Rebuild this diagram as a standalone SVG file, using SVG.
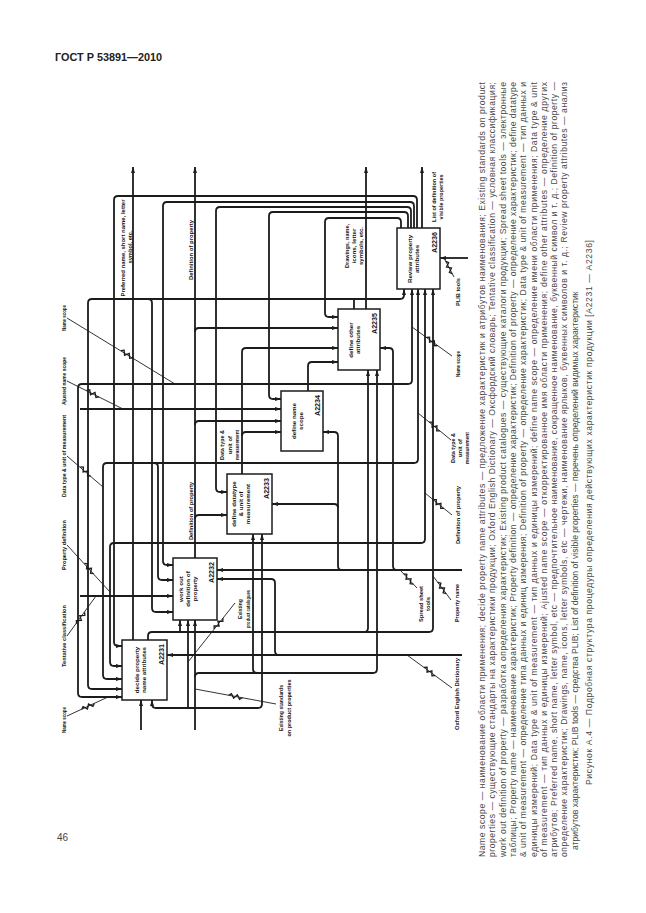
<svg xmlns="http://www.w3.org/2000/svg" width="646" height="913" viewBox="0 0 646 913">
<defs>
<style>
.c{fill:none;stroke:#1c1c1c;stroke-width:1.8;stroke-linejoin:round}
.ae{marker-end:url(#ah)}
.as{marker-start:url(#ah)}
.bx{fill:#fff;stroke:#1c1c1c;stroke-width:1.5}
.bt{font-family:"Liberation Sans",Arial,sans-serif;font-weight:bold;font-size:6.2px;fill:#151515}
.id{font-family:"Liberation Sans",Arial,sans-serif;font-weight:bold;font-size:7px;fill:#151515}
.lb{font-family:"Liberation Sans",Arial,sans-serif;font-weight:bold;font-size:5.4px;fill:#151515}
.ld{fill:none;stroke:#1c1c1c;stroke-width:0.9}
.sq{fill:none;stroke:#1c1c1c;stroke-width:1.3}
.cap{font-family:"Liberation Sans",Arial,sans-serif;font-size:8.6px;fill:#4a4a4a}
.hd{font-family:"Liberation Sans",Arial,sans-serif;font-weight:bold;font-size:11px;fill:#222}
</style>
<marker id="ah" viewBox="0 0 6 4" refX="6" refY="2" markerWidth="6" markerHeight="4" markerUnits="userSpaceOnUse" orient="auto-start-reverse"><path d="M0,0 L6,2 L0,4 z" fill="#1c1c1c"/></marker>
<path id="sqz" d="M-7,0 L-4.5,-2 L-1.5,2 L1.5,-2 L4.5,2 L7,0"/>
</defs>
<rect width="646" height="913" fill="#fff"/>

<g id="header">
<text class="hd" x="55" y="61" textLength="107" lengthAdjust="spacingAndGlyphs">ГОСТ Р 53891—2010</text>
<text x="57" y="841" font-family="Liberation Sans, Arial, sans-serif" font-size="10" fill="#444">46</text>
</g>

<g id="connectors">
<path class="c ae" d="M133,640 V167"/>
<path class="c ae" d="M195,558 V167"/>
<path class="c ae" d="M366,309 V167"/>
<path class="c ae" d="M422,228 V167"/>
<path class="c ae" d="M417,228 V200 Q417,196 413,196 H118 Q114,196 114,200 V642 Q114,646 118,646 H122"/>
<path class="c ae" d="M414,228 V206 Q414,202 410,202 H167 Q163,202 163,206 V561 Q163,565 167,565 H173"/>
<path class="c ae" d="M411,228 V211 Q411,207 407,207 H220 Q216,207 216,211 V488 Q216,492 220,492 H227"/>
<path class="c ae" d="M408,228 V216 Q408,212 404,212 H273 Q269,212 269,216 V395 Q269,399 273,399 H281"/>
<path class="c ae" d="M401,228 V222 Q401,218 397,218 H329 Q325,218 325,222 V313 Q325,317 329,317 H338"/>
<path class="c ae" d="M242,474 V352 Q242,348 246,348 H338"/>
<path class="c ae" d="M242,436 Q242,432 246,432 H281"/>
<path class="c ae as" d="M122,679 H107 Q103,679 103,675 V467 Q103,463 107,463 H414 Q418,463 418,459 V289"/>
<path class="c ae" d="M154,463 Q158,463 158,467 V576 Q158,580 162,580 H173"/>
<path class="c ae as" d="M122,666 H114 Q110,666 110,662 V547 Q110,543 114,543 H421 Q425,543 425,539 V289"/>
<path class="c ae" d="M195,519 Q195,515 199,515 H227"/>
<path class="c ae" d="M195,425 Q195,421 199,421 H281"/>
<path class="c ae" d="M195,332 Q195,328 199,328 H338"/>
<path class="c ae" d="M308,391 V366 Q308,362 312,362 H338"/>
<path class="c ae as" d="M122,697 H82 Q78,697 78,693 V388 Q78,384 82,384 H408 Q412,384 412,380 V289"/>
<path class="c ae" d="M80,409 H281"/>
<path class="c ae" d="M80,596 H173"/>
<path class="c ae as" d="M122,689 H92 Q88,689 88,685 V303 Q88,299 92,299 H400 Q404,299 404,295 V289"/>
<path class="c ae" d="M148,299 Q152,299 152,303 V608 Q152,612 156,612 H173"/>
<path class="c" d="M354,309 V299"/>
<path class="c ae" d="M148,640 V636 Q148,632 152,632 H429 Q433,632 433,628 V289"/>
<path class="c ae" d="M364,632 Q368,632 368,628 V370"/>
<path class="c ae" d="M180,632 V620"/>
<path class="c ae as" d="M152,700 V704 Q152,708 156,708 H258 Q262,708 262,704 V534"/>
<path class="c ae" d="M188,708 V620"/>
<path class="c ae" d="M195,730 V620"/>
<path class="c ae" d="M195,677 Q195,673 199,673 H373 Q377,673 377,669 V370"/>
<path class="c ae" d="M257,673 Q253,673 253,669 V534"/>
<path class="c ae" d="M141,730 V700"/>
<path class="c ae" d="M462,655 H167"/>
<path class="c as" d="M217,579 H271 Q275,579 275,583 V651 Q275,655 279,655"/>
<path class="c ae" d="M462,570 H217"/>
<path class="c as" d="M323,432 H334 Q338,432 338,436 V566 Q338,570 342,570"/>
<path class="c as" d="M272,504 H334 Q338,504 338,508"/>
<path class="c as" d="M380,348 H389 Q393,348 393,352 V566 Q393,570 397,570"/>
<path class="c ae" d="M468,258 H440"/>
</g>

<g id="leaders">
<path class="ld" d="M67,318 L175,384 M67,381 L123,409 M67,456 L103,487 M67,545 L110,592 M67,636 L96,596 M67,716 L108,697"/>
<path class="ld" d="M444,258 L454,277 M412,327 L452,356 M418,413 L451,440 M425,493 L452,515 M433,576 L451,600 M400,570 L417,588 M407,655 L452,688 M276,704 L195,689 M235,603 L188,662"/>
<use href="#sqz" class="sq" transform="translate(126.9,354.3) rotate(31.7)"/>
<use href="#sqz" class="sq" transform="translate(92.8,393.6) rotate(27)"/>
<use href="#sqz" class="sq" transform="translate(85.5,471.5) rotate(41.5)"/>
<use href="#sqz" class="sq" transform="translate(89,568.5) rotate(48.2)"/>
<use href="#sqz" class="sq" transform="translate(80.6,618) rotate(-55)"/>
<use href="#sqz" class="sq" transform="translate(88,706.5) rotate(-25.4)"/>
<use href="#sqz" class="sq" transform="translate(449,267.5) rotate(62)"/>
<use href="#sqz" class="sq" transform="translate(432,341.5) rotate(36)"/>
<use href="#sqz" class="sq" transform="translate(434.5,426.5) rotate(39.3)"/>
<use href="#sqz" class="sq" transform="translate(438.5,504) rotate(39.2)"/>
<use href="#sqz" class="sq" transform="translate(442,588) rotate(53)"/>
<use href="#sqz" class="sq" transform="translate(408.5,579) rotate(46.6)"/>
<use href="#sqz" class="sq" transform="translate(429.5,671.5) rotate(36.3)"/>
<use href="#sqz" class="sq" transform="translate(235.5,696.5) rotate(10.5)"/>
<use href="#sqz" class="sq" transform="translate(218.5,623.6) rotate(-51.5)"/>
</g>

<g id="A2231">
<rect class="bx" x="122" y="640" width="45" height="60"/>
<text class="bt" text-anchor="middle" transform="translate(138.6,670) rotate(-90)">decide property</text>
<text class="bt" text-anchor="middle" transform="translate(145.8,670) rotate(-90)">name attributes</text>
<text class="id" transform="translate(164,665) rotate(-90)" textLength="21" lengthAdjust="spacingAndGlyphs">A2231</text>
</g>
<g id="A2232">
<rect class="bx" x="173" y="558" width="44" height="62"/>
<text class="bt" text-anchor="middle" transform="translate(183,589) rotate(-90)">work out</text>
<text class="bt" text-anchor="middle" transform="translate(190.2,589) rotate(-90)">definition of</text>
<text class="bt" text-anchor="middle" transform="translate(197.4,589) rotate(-90)">property</text>
<text class="id" transform="translate(214,583) rotate(-90)" textLength="21" lengthAdjust="spacingAndGlyphs">A2232</text>
</g>
<g id="A2233">
<rect class="bx" x="227" y="474" width="45" height="60"/>
<text class="bt" text-anchor="middle" transform="translate(236,504) rotate(-90)">define datatype</text>
<text class="bt" text-anchor="middle" transform="translate(243.2,504) rotate(-90)">&amp; unit of</text>
<text class="bt" text-anchor="middle" transform="translate(250.4,504) rotate(-90)">measurement</text>
<text class="id" transform="translate(269,499) rotate(-90)" textLength="21" lengthAdjust="spacingAndGlyphs">A2233</text>
</g>
<g id="A2234">
<rect class="bx" x="281" y="391" width="42" height="60"/>
<text class="bt" text-anchor="middle" transform="translate(295.6,421) rotate(-90)">define name</text>
<text class="bt" text-anchor="middle" transform="translate(302.8,421) rotate(-90)">scope</text>
<text class="id" transform="translate(320,416) rotate(-90)" textLength="21" lengthAdjust="spacingAndGlyphs">A2234</text>
</g>
<g id="A2235">
<rect class="bx" x="338" y="309" width="42" height="61"/>
<text class="bt" text-anchor="middle" transform="translate(352.6,340) rotate(-90)">define other</text>
<text class="bt" text-anchor="middle" transform="translate(359.8,340) rotate(-90)">attributes</text>
<text class="id" transform="translate(377,334) rotate(-90)" textLength="21" lengthAdjust="spacingAndGlyphs">A2235</text>
</g>
<g id="A2236">
<rect class="bx" x="397" y="228" width="43" height="61"/>
<text class="bt" text-anchor="middle" transform="translate(411.6,259) rotate(-90)">Review property</text>
<text class="bt" text-anchor="middle" transform="translate(418.8,259) rotate(-90)">attributes</text>
<text class="id" transform="translate(437,253) rotate(-90)" textLength="21" lengthAdjust="spacingAndGlyphs">A2236</text>
</g>

<g id="labels">
<text class="lb" text-anchor="middle" transform="translate(65.5,318) rotate(-90)" textLength="26" lengthAdjust="spacingAndGlyphs">Name scope</text>
<text class="lb" text-anchor="middle" transform="translate(65.5,381) rotate(-90)" textLength="48" lengthAdjust="spacingAndGlyphs">Ajusted name scope</text>
<text class="lb" text-anchor="middle" transform="translate(65.5,456) rotate(-90)" textLength="82" lengthAdjust="spacingAndGlyphs">Data type &amp; unit of measurement</text>
<text class="lb" text-anchor="middle" transform="translate(65.5,545) rotate(-90)" textLength="50" lengthAdjust="spacingAndGlyphs">Property definition</text>
<text class="lb" text-anchor="middle" transform="translate(65.5,636) rotate(-90)" textLength="62" lengthAdjust="spacingAndGlyphs">Tentative classification</text>
<text class="lb" text-anchor="middle" transform="translate(65.5,720) rotate(-90)" textLength="26" lengthAdjust="spacingAndGlyphs">Name scope</text>

<text class="lb" text-anchor="middle" transform="translate(125,248) rotate(-90)" textLength="97" lengthAdjust="spacingAndGlyphs">Preferred name, short name, letter</text>
<text class="lb" text-anchor="middle" transform="translate(131.5,247) rotate(-90)" textLength="33" lengthAdjust="spacingAndGlyphs">symbol, etc.</text>
<text class="lb" text-anchor="middle" transform="translate(192.5,250) rotate(-90)" textLength="60" lengthAdjust="spacingAndGlyphs">Definition of property</text>
<text class="lb" text-anchor="middle" transform="translate(349,246) rotate(-90)" textLength="44" lengthAdjust="spacingAndGlyphs">Drawings, name,</text>
<text class="lb" text-anchor="middle" transform="translate(356,246) rotate(-90)" textLength="35" lengthAdjust="spacingAndGlyphs">icons, letter</text>
<text class="lb" text-anchor="middle" transform="translate(363,246) rotate(-90)" textLength="38" lengthAdjust="spacingAndGlyphs">symbols, etc.</text>
<text class="lb" text-anchor="middle" transform="translate(436,197) rotate(-90)" textLength="50" lengthAdjust="spacingAndGlyphs">List of definition of</text>
<text class="lb" text-anchor="middle" transform="translate(443,197) rotate(-90)" textLength="45" lengthAdjust="spacingAndGlyphs">visible properties</text>

<text class="lb" text-anchor="middle" transform="translate(224,445) rotate(-90)" textLength="30" lengthAdjust="spacingAndGlyphs">Data type &amp;</text>
<text class="lb" text-anchor="middle" transform="translate(231.5,445) rotate(-90)" textLength="18" lengthAdjust="spacingAndGlyphs">unit of</text>
<text class="lb" text-anchor="middle" transform="translate(239,445) rotate(-90)" textLength="30" lengthAdjust="spacingAndGlyphs">measurement</text>
<text class="lb" text-anchor="middle" transform="translate(192.5,511) rotate(-90)" textLength="58" lengthAdjust="spacingAndGlyphs">Definition of property</text>

<text class="lb" text-anchor="middle" transform="translate(283,708) rotate(-90)" textLength="46" lengthAdjust="spacingAndGlyphs">Existing standards</text>
<text class="lb" text-anchor="middle" transform="translate(291,708) rotate(-90)" textLength="57" lengthAdjust="spacingAndGlyphs">on product properties</text>
<text class="lb" text-anchor="middle" transform="translate(242,609) rotate(-90)" textLength="20" lengthAdjust="spacingAndGlyphs">Existing</text>
<text class="lb" text-anchor="middle" transform="translate(250,609) rotate(-90)" textLength="38" lengthAdjust="spacingAndGlyphs">product catalogues</text>

<text class="lb" text-anchor="middle" transform="translate(460,292) rotate(-90)" textLength="28" lengthAdjust="spacingAndGlyphs">PLIB tools</text>
<text class="lb" text-anchor="middle" transform="translate(460,364) rotate(-90)" textLength="26" lengthAdjust="spacingAndGlyphs">Name scope</text>
<text class="lb" text-anchor="middle" transform="translate(455,448) rotate(-90)" textLength="30" lengthAdjust="spacingAndGlyphs">Data type &amp;</text>
<text class="lb" text-anchor="middle" transform="translate(462,448) rotate(-90)" textLength="18" lengthAdjust="spacingAndGlyphs">unit of</text>
<text class="lb" text-anchor="middle" transform="translate(469,448) rotate(-90)" textLength="32" lengthAdjust="spacingAndGlyphs">measurement</text>
<text class="lb" text-anchor="middle" transform="translate(460,515) rotate(-90)" textLength="58" lengthAdjust="spacingAndGlyphs">Definition of property</text>
<text class="lb" text-anchor="middle" transform="translate(459,603) rotate(-90)" textLength="38" lengthAdjust="spacingAndGlyphs">Property name</text>
<text class="lb" text-anchor="middle" transform="translate(423,604) rotate(-90)" textLength="36" lengthAdjust="spacingAndGlyphs">Spread sheet</text>
<text class="lb" text-anchor="middle" transform="translate(430,604) rotate(-90)" textLength="14" lengthAdjust="spacingAndGlyphs">tools</text>
<text class="lb" text-anchor="middle" transform="translate(459,694) rotate(-90)" textLength="72" lengthAdjust="spacingAndGlyphs">Oxford English Dictionary</text>
</g>

<g id="caption">
<text class="cap" transform="translate(485,857) rotate(-90)" textLength="775" lengthAdjust="spacing">Name scope — наименование области применения; decide property name attributes — предложение характеристик и атрибутов наименования; Existing standards on product</text>
<text class="cap" transform="translate(495.3,857) rotate(-90)" textLength="775" lengthAdjust="spacing">properties — существующие стандарты на характеристики продукции; Oxford English Dictionary — Оксфордский словарь; Tentative classification — условная классификация;</text>
<text class="cap" transform="translate(505.6,857) rotate(-90)" textLength="775" lengthAdjust="spacing">work out definition of property — разработка определения характеристик; Existing product catalogues — существующие каталоги продукции; Spread sheet tools — электронные</text>
<text class="cap" transform="translate(515.9,857) rotate(-90)" textLength="775" lengthAdjust="spacing">таблицы; Property name — наименование характеристик; Property definition — определение характеристик; Definition of property — определение характеристик; define datatype</text>
<text class="cap" transform="translate(526.2,857) rotate(-90)" textLength="775" lengthAdjust="spacing">&amp; unit of measurement — определение типа данных и единиц измерения; Definition of property — определение характеристик; Data type &amp; unit of measurement — тип данных и</text>
<text class="cap" transform="translate(536.5,857) rotate(-90)" textLength="775" lengthAdjust="spacing">единицы измерений; Data type &amp; unit of measurement — тип данных и единицы измерений; define name scope — определение имени области применения; Data type &amp; unit</text>
<text class="cap" transform="translate(546.8,857) rotate(-90)" textLength="775" lengthAdjust="spacing">of measurement — тип данных и единицы измерений; Ajusted name scope — откорректированное имя области применения; define other attributes — определение других</text>
<text class="cap" transform="translate(557.1,857) rotate(-90)" textLength="775" lengthAdjust="spacing">атрибутов; Preferred name, short name, letter symbol, etc — предпочтительное наименование, сокращенное наименование, буквенный символ и т. д.; Definition of property —</text>
<text class="cap" transform="translate(567.4,857) rotate(-90)" textLength="775" lengthAdjust="spacing">определение характеристик; Drawings, name, icons, letter symbols, etc — чертежи, наименование ярлыков, буквенных символов и т. д.; Review property attributes — анализ</text>
<text class="cap" transform="translate(577.7,850) rotate(-90)">атрибутов характеристик; PLIB tools — средства PLIB; List of definition of visible properties — перечень определений видимых характеристик</text>
<text class="cap" transform="translate(592,785) rotate(-90)" textLength="545" lengthAdjust="spacing">Рисунок А.4 — Подробная структура процедуры определения действующих характеристик продукции [А2231 — А2236]</text>
</g>
</svg>
